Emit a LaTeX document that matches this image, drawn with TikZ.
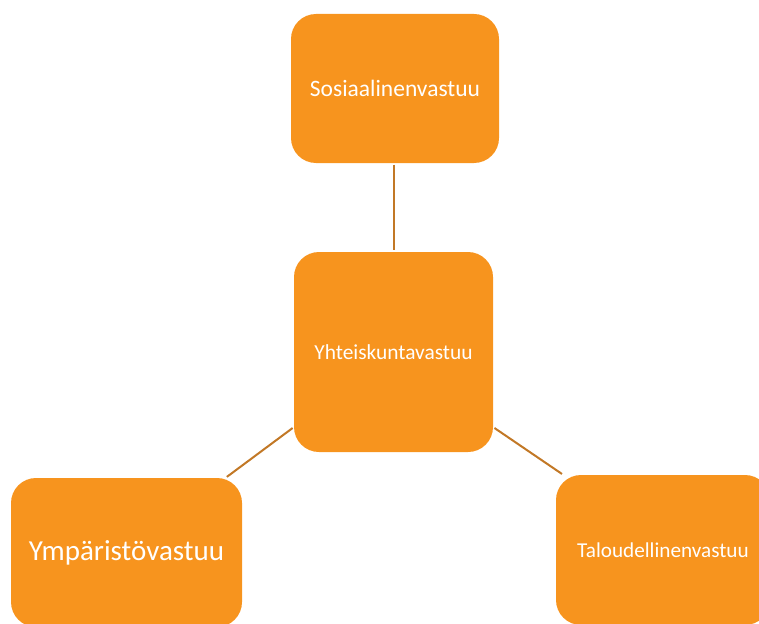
\documentclass[tikz,border=0pt]{standalone}
\usepackage{fontspec}
\setmainfont{Carlito}
\definecolor{boxorange}{HTML}{F7941E}
\definecolor{linkbrown}{HTML}{C27826}
\begin{document}
\begin{tikzpicture}[x=1pt, y=-1pt,
    pillar/.style={fill=boxorange, text=white, rounded corners=25pt, inner sep=0pt},
    link/.style={draw=linkbrown, line width=2pt, shorten >=1.5pt, shorten <=1.5pt}]
    % Canvas
    \useasboundingbox (0,0) rectangle (759,623);
    \clip (0,0) rectangle (759,623);

    % Boxes
    \node[pillar, minimum width=208pt, minimum height=149pt, font=\fontsize{23.5}{28}\selectfont] (sos) at (395,88.5) {Sosiaalinenvastuu};
    \node[pillar, minimum width=199pt, minimum height=200pt, font=\fontsize{21.4}{26}\selectfont] (yht) at (393.5,352) {Yhteiskuntavastuu};
    \node[pillar, minimum width=231pt, minimum height=149pt, font=\fontsize{29}{34}\selectfont] (ymp) at (126.5,552.5) {Ympäristövastuu};
    \node[pillar, minimum width=214pt, minimum height=150pt, font=\fontsize{21.2}{26}\selectfont] (tal) at (663,550) {Taloudellinenvastuu};

    % Links
    \draw[link] (sos.south -| yht.north) -- (yht.north);
    \draw[link] (yht.217) -- (ymp.37);
    \draw[link] (yht.-37) -- (tal.143);
\end{tikzpicture}
\end{document}
